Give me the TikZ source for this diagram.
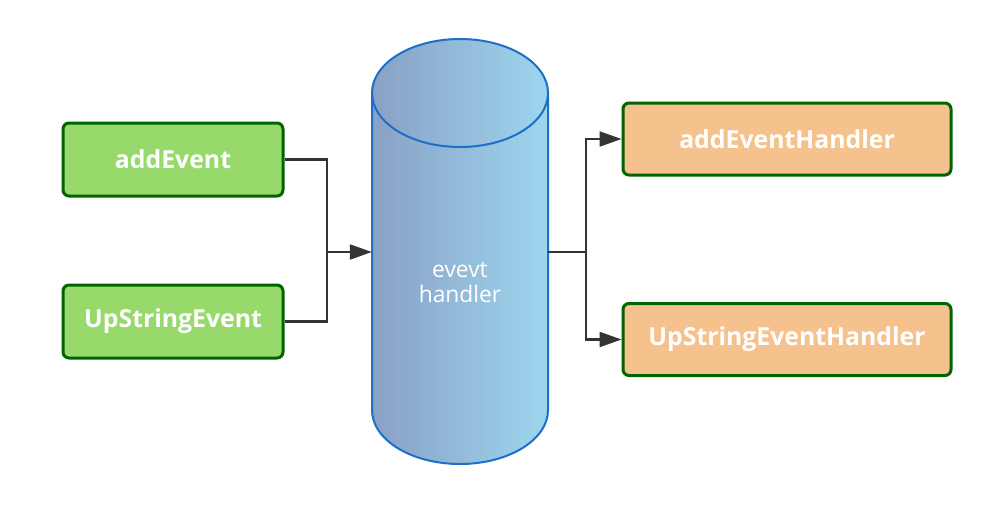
\documentclass[tikz,border=0pt]{standalone}
\usepackage{fontspec}
\setmainfont{Open Sans}
\usetikzlibrary{arrows.meta}
\definecolor{gfill}{RGB}{151,217,106}
\definecolor{gborder}{RGB}{0,100,0}
\definecolor{ofill}{RGB}{245,194,142}
\definecolor{cylleft}{RGB}{137,160,196}
\definecolor{cylright}{RGB}{158,214,238}
\definecolor{cylborder}{RGB}{29,111,201}
\definecolor{conn}{RGB}{51,51,51}
\tikzset{
  inbox/.style={draw=gborder, fill=gfill, line width=3pt, rounded corners=6pt,
    minimum width=220pt, minimum height=73pt, text=white,
    font=\bfseries\fontsize{24.8}{28}\selectfont, inner sep=0pt},
  outbox/.style={inbox, fill=ofill, minimum width=328pt, minimum height=72pt},
  wire/.style={draw=conn, line width=2.3pt},
  arr/.style={wire, -{Triangle[length=22pt,width=15pt]}},
}
\begin{document}
\begin{tikzpicture}[x=1pt,y=1pt]
\useasboundingbox (0,0) rectangle (988,-507);
% cylinder
\path[left color=cylleft, right color=cylright, draw=cylborder, line width=2pt]
  (372,-93) -- (372,-410) arc (180:360:88 and 54) -- (548,-93) arc (0:180:88 and 54) -- cycle;
\draw[cylborder, line width=2pt] (372,-93) arc (180:360:88 and 54);
\node[minimum width=176pt, minimum height=425pt, inner sep=0pt] (cyl) at (460,-252) {};
\node[text=white, font=\fontsize{22.8}{25}\selectfont, align=center] (cyltext) at (460,-283) {evevt\\handler};
% boxes
\node[inbox] (b1) at (173,-159.5) {addEvent};
\node[inbox] (b2) at (173,-321.5) {UpStringEvent};
\node[outbox] (h1) at (787,-139) {addEventHandler};
\node[outbox] (h2) at (787,-339.5) {UpStringEventHandler};
% connectors
\coordinate (jl) at (327,-252);
\coordinate (jr) at (586,-252);
\draw[wire] (b1.east) -| (jl);
\draw[wire] (b2.east) -| (jl);
\draw[arr] (jl) -- (cyl.west);
\draw[wire] (cyl.east) -- (jr);
\draw[arr] (jr) |- (h1.west);
\draw[arr] (jr) |- (h2.west);
\end{tikzpicture}
\end{document}
